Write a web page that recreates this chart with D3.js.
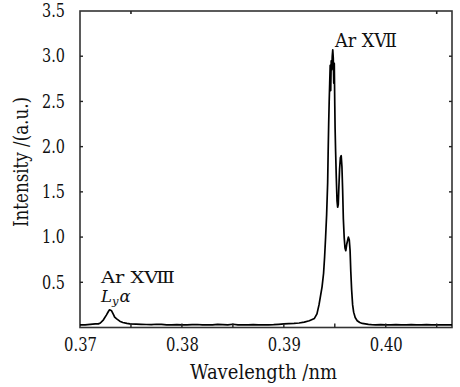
<!DOCTYPE html>
<html><head><meta charset="utf-8">
<script src="https://cdn.jsdelivr.net/npm/d3@7"></script>
<style>body{margin:0;background:#fff}svg{display:block}
text.sf{font-family:"DejaVu Serif","Liberation Serif",serif}
</style>
</head><body>
<script>
// Data (wavelength in nm, intensity in a.u.)
const wavelength = [
  0.3700,0.3705,0.3710,0.3715,0.3718,0.3720,0.3723,0.3726,0.3728,0.3729,0.3731,0.3733,0.3734,0.3736,0.3739,0.3742,0.3746,0.3749,
  0.3755,0.3760,0.3765,0.3770,0.3775,0.3780,0.3785,0.3790,0.3795,0.3800,0.3805,0.3810,0.3815,0.3820,0.3825,0.3830,0.3835,0.3840,
  0.3845,0.3850,0.3855,0.3860,0.3865,0.3870,0.3875,0.3880,0.3885,0.3890,0.3895,0.3900,0.3905,0.3910,0.3915,0.3920,0.3925,0.3930,
  0.39325,0.39345,0.39360,0.39375,0.39390,0.39400,0.39410,0.39420,0.39430,0.39435,0.39440,0.39445,0.39450,0.39455,0.39460,
  0.39465,0.39470,0.39475,0.39480,0.39485,0.39490,0.39495,0.39500,0.39503,0.39508,0.39515,0.39522,0.39528,0.39534,0.39540,
  0.39547,0.39555,0.39563,0.39570,0.39577,0.39584,0.39592,0.39600,0.39608,0.39617,0.39625,0.39633,0.39642,0.39650,0.39657,
  0.39665,0.39675,0.39685,0.39700,0.39720,0.39745,0.39770,0.39800,0.39830,0.39860,0.3990,0.3995,0.4000,0.4005,0.4010,0.4015,
  0.4020,0.4025,0.4030,0.4035,0.4040,0.4045,0.4050,0.4055,0.4060,0.4065
];
const intensity = [
  0.030,0.030,0.035,0.040,0.040,0.050,0.085,0.140,0.180,0.196,0.185,0.140,0.114,0.095,0.070,0.055,0.045,0.040,
  0.038,0.035,0.033,0.032,0.036,0.034,0.030,0.029,0.032,0.028,0.030,0.031,0.033,0.030,0.028,0.030,0.035,0.032,
  0.030,0.036,0.030,0.028,0.030,0.031,0.029,0.028,0.030,0.031,0.035,0.040,0.042,0.045,0.050,0.060,0.075,0.100,
  0.150,0.250,0.350,0.450,0.600,0.780,1.000,1.250,1.600,1.950,2.250,2.500,2.700,2.900,2.620,
  2.950,2.850,3.000,3.070,2.980,2.700,2.920,2.450,2.200,1.950,1.650,1.400,1.330,1.360,1.550,
  1.750,1.880,1.900,1.780,1.520,1.200,1.000,0.880,0.850,0.920,0.960,1.000,0.970,0.850,0.620,
  0.420,0.250,0.170,0.110,0.075,0.055,0.045,0.040,0.035,0.032,0.030,0.032,0.028,0.030,0.031,0.029,
  0.030,0.032,0.030,0.028,0.031,0.030,0.029,0.030,0.030,0.030
];
const xTickValues = [0.37, 0.38, 0.39, 0.40];
const xMinorTicks = [0.375, 0.38, 0.385, 0.39, 0.395, 0.40, 0.405];
const xTopTicks = [0.375, 0.405];
const yTickValues = [0.5, 1.0, 1.5, 2.0, 2.5, 3.0, 3.5];
const xLabel = "Wavelength /nm";
const yLabel = "Intensity /(a.u.)";

(function () {
const W = 460, H = 387;
const mL = 80, mR = 452, mT = 11, mB = 327.5;
const ink = "#111";

const svg = d3.select("body").append("svg").attr("width", W).attr("height", H);
const x = d3.scaleLinear().domain([0.37, 0.4065]).range([mL, mR]);
const y = d3.scaleLinear().domain([0, 3.5]).range([mB, mT]);

// frame
svg.append("rect").attr("x", mL).attr("y", mT).attr("width", mR - mL).attr("height", mB - mT)
  .attr("fill", "none").attr("stroke", "#333").attr("stroke-width", 1.6);

// data line
const pts = wavelength.map((w, i) => [w, intensity[i]]);
svg.append("path").datum(pts)
  .attr("d", d3.line().x(d => x(d[0])).y(d => y(d[1])))
  .attr("fill", "none").attr("stroke", "#000").attr("stroke-width", 1.7).attr("stroke-linejoin", "round");

// bottom axis
const gx = svg.append("g").attr("transform", `translate(0,${mB})`)
  .call(d3.axisBottom(x).tickValues(xTickValues).tickFormat(d3.format(".2f")).tickSize(0).tickPadding(9));
gx.attr("font-family", null);
gx.select(".domain").remove();
gx.selectAll("text").attr("class", "sf").attr("font-size", 18).attr("fill", ink).attr("dy", "0.8em")
  .attr("textLength", 33).attr("lengthAdjust", "spacingAndGlyphs");
svg.append("g").selectAll("line").data(xMinorTicks).join("line")
  .attr("x1", d => x(d)).attr("x2", d => x(d)).attr("y1", mB).attr("y2", mB - 4)
  .attr("stroke", "#222").attr("stroke-width", 1.4);
svg.append("g").selectAll("line").data(xTopTicks).join("line")
  .attr("x1", d => x(d)).attr("x2", d => x(d)).attr("y1", mT).attr("y2", mT + 3)
  .attr("stroke", "#222").attr("stroke-width", 1.6);

// left axis
const gy = svg.append("g").attr("transform", `translate(${mL},0)`)
  .call(d3.axisLeft(y).tickValues(yTickValues).tickFormat(d3.format(".1f")).tickSize(0).tickPadding(15));
gy.attr("font-family", null);
gy.select(".domain").remove();
gy.selectAll("text").attr("class", "sf").attr("font-size", 18).attr("fill", ink)
  .attr("textLength", 23).attr("lengthAdjust", "spacingAndGlyphs");
svg.append("g").selectAll("line").data(yTickValues.slice(0, 6)).join("line")
  .attr("x1", mL).attr("x2", mL + 3).attr("y1", d => y(d)).attr("y2", d => y(d))
  .attr("stroke", "#222").attr("stroke-width", 1.4);
svg.append("g").selectAll("line").data(yTickValues.slice(0, 6)).join("line")
  .attr("x1", mR).attr("x2", mR - 3).attr("y1", d => y(d)).attr("y2", d => y(d))
  .attr("stroke", "#222").attr("stroke-width", 1.4);

// axis titles
svg.append("text").attr("class", "sf").attr("x", 263.5).attr("y", 379).attr("text-anchor", "middle")
  .attr("font-size", 20).attr("fill", ink)
  .attr("textLength", 147).attr("lengthAdjust", "spacingAndGlyphs").text(xLabel);
svg.append("text").attr("class", "sf").attr("transform", "translate(28,162) rotate(-90)").attr("text-anchor", "middle")
  .attr("font-size", 19.5).attr("fill", ink)
  .attr("textLength", 130).attr("lengthAdjust", "spacingAndGlyphs").text(yLabel);

// annotations
svg.append("text").attr("class", "sf").attr("x", 335).attr("y", 47).attr("font-size", 18).attr("fill", ink)
  .attr("textLength", 62).attr("lengthAdjust", "spacingAndGlyphs").text("Ar XⅦ");
svg.append("text").attr("class", "sf").attr("x", 101).attr("y", 283).attr("font-size", 16).attr("fill", ink)
  .attr("textLength", 74).attr("lengthAdjust", "spacingAndGlyphs").text("Ar XⅧ");
const ly = svg.append("text").attr("class", "sf").attr("x", 101).attr("y", 302).attr("font-size", 16.5)
  .attr("font-style", "italic").attr("fill", ink);
ly.append("tspan").text("L");
ly.append("tspan").attr("font-size", 11.5).attr("dy", 3).text("y");
ly.append("tspan").attr("dy", -3).attr("dx", 1).text("α");
})();
</script>
</body></html>
